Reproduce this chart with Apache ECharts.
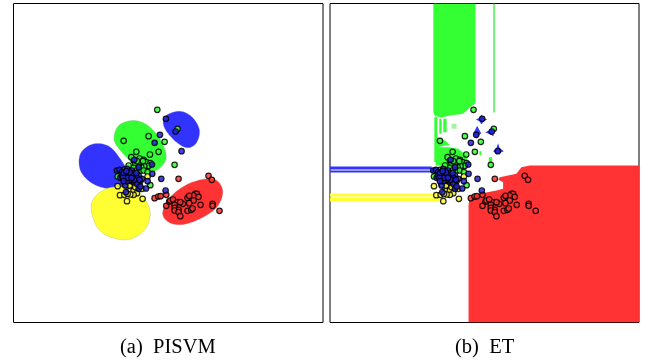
<!DOCTYPE html>
<html><head><meta charset="utf-8">
<style>html,body{margin:0;padding:0;background:#fff}#c{width:657px;height:363px}</style>
<script src="https://cdn.jsdelivr.net/npm/echarts@6/dist/echarts.min.js"></script>
</head><body><div id="c"></div>
<script>
const captions = ['(a)  PISVM', '(b)  ET'];
// Sample points, shared by both panels
const redPoints = [[415,256],[425,268],[448,361],[427,340],[427,346],[391,343],[375,310],[380,310],[370,315],[385,319],[352,322],[357,316],[370,330],[357,338],[338,340],[288,346],[297,333],[300,330],[308,327],[322,335],[330,335],[313,343],[313,352],[325,358],[313,360],[325,365],[330,377],[352,361],[363,358],[367,354],[253,323],[264,318],[271,317],[288,313],[325,265]];
const greenPoints = [[261,58],[322,115],[235,137],[160,151],[283,154],[265,184],[198,184],[239,192],[313,223],[240,284],[183,200],[190,210],[208,204],[220,208],[228,215],[240,218],[235,226],[222,227],[213,230],[205,222],[195,220],[190,232],[175,225],[210,240],[198,240],[220,240],[232,245],[190,258],[145,240],[150,252],[142,258],[165,255],[178,260],[160,238],[218,212],[200,212]];
const yellowPoints = [[232,258],[142,287],[149,314],[162,313],[170,332],[217,325],[175,295],[185,283],[165,282],[178,302],[190,300],[200,308],[190,313],[180,312],[215,295],[195,290],[210,272],[172,310],[178,285],[190,275]];
const bluePoints = [[287,85],[316,123],[269,133],[253,157],[334,182],[246,250],[273,265],[232,272],[227,294],[286,300],[167,305],[140,240],[148,238],[155,244],[150,262],[170,235],[185,240],[192,208],[245,222],[205,230],[155,255],[165,270],[175,270],[185,272],[200,270],[205,280],[205,295],[190,262],[165,285],[205,255],[215,265],[170,250],[180,255],[165,260],[195,255],[180,268],[170,272],[200,280],[210,288],[160,248],[172,262],[188,248],[200,262],[158,262],[178,246],[168,242],[192,268],[208,268],[198,248],[184,262],[160,272]];
// Decision regions of panel (a)
const aBlueTop = [[300,68],[335,63],[368,82],[388,120],[378,158],[350,172],[315,152],[284,115],[280,85]];
const aGreen = [[185,90],[225,100],[262,135],[285,180],[285,212],[258,240],[225,245],[190,220],[150,180],[131,145],[145,105]];
const aBlueLeft = [[85,159],[120,170],[150,205],[178,250],[188,272],[150,290],[105,293],[60,275],[30,240],[28,195],[52,167]];
const aYellow = [[62,350],[80,312],[125,290],[180,295],[222,322],[240,370],[222,420],[175,447],[120,440],[80,410]];
const aRed = [[277,368],[298,322],[345,285],[400,266],[440,270],[458,305],[440,350],[395,382],[340,402],[297,396]];
// Decision regions of panel (b)
const bGreenTall = [[140,-261],[267,-261],[267,38],[250,50],[230,70],[190,75],[165,80],[145,77],[140,65]];
const bGreenThin = [[320,-261],[326,-261],[326,66],[320,66]];
const bGreenBits = [
  [[143,80],[152,80],[152,215],[143,215]],
  [[158,85],[165,85],[165,130],[158,130]],
  [[170,85],[180,85],[180,125],[170,125]],
  [[152,140],[175,150],[190,163],[152,170]],
  [[147,170],[190,170],[215,175],[240,195],[245,225],[147,225]],
  [[307,200],[317,200],[317,222],[307,222]],
  [[279,182],[285,182],[285,194],[279,194]]
];
const bGreenFaint = [[[195,100],[210,100],[210,115],[195,115]]];
const bBlueBars = [[[-171,228],[135,228],[135,237],[-171,237]],[[-171,240],[135,240],[135,246],[-171,246]]];
const bYellowBars = [[[-171,309],[150,309],[150,318],[-171,318]],[[-171,321],[160,321],[160,333],[-171,333]]];
const bBlueBlobs = [
  [[268,87],[280,82],[285,72],[291,81],[302,87],[291,92],[285,102],[279,92]],
  [[260,128],[266,118],[272,106],[278,118],[284,128],[276,136],[270,144],[264,136]],
  [[296,125],[308,120],[320,108],[318,125],[322,138],[312,132]],
  [[320,182],[330,172],[335,158],[339,172],[352,182],[338,188],[330,190]]
];
const bRed = [[246,696],[246,345],[248,330],[280,310],[330,300],[350,295],[350,275],[335,267],[340,260],[390,250],[405,230],[430,225],[759,225],[759,696]];

const col = {red:'#ff3333', green:'#33ff33', blue:'#3333ff', yellow:'#ffff33'};
// closed Catmull-Rom resampling so the outlines stay smooth
function spline(P){
  const n=P.length,out=[];
  for(let i=0;i<n;i++){
    const a=P[(i-1+n)%n],b=P[i],c=P[(i+1)%n],d=P[(i+2)%n];
    for(let s=0;s<8;s++){
      const t=s/8,t2=t*t,t3=t2*t;
      out.push([0,1].map(k=>0.5*(2*b[k]+(c[k]-a[k])*t+(2*a[k]-5*b[k]+4*c[k]-d[k])*t2+(3*b[k]-a[k]-3*c[k]+d[k])*t3)));
    }
  }
  return out;
}
function region(idx, pts, color, smooth, z){
  return {type:'custom', xAxisIndex:idx, yAxisIndex:idx, coordinateSystem:'cartesian2d', z:z||2, silent:true,
    data:[0], clip:true, animation:false, encode:{x:[],y:[]},
    renderItem:(params,api)=>({type:'polygon',
      shape:{points:(smooth?spline(pts):pts).map(p=>api.coord(p))},
      style:{fill:color,stroke:smooth?'rgba(150,150,150,0.45)':null,lineWidth:smooth?0.6:0}})};
}
function dots(idx, pts, color){
  return {type:'scatter', xAxisIndex:idx, yAxisIndex:idx, data:pts, symbolSize:5.5, z:5, animation:false, silent:true,
    itemStyle:{color:color,opacity:0.85,borderColor:'#000',borderWidth:1.2}};
}
const series = [
  region(0,aGreen,col.green,true), region(0,aBlueTop,col.blue,true), region(0,aBlueLeft,col.blue,true),
  region(0,aYellow,col.yellow,true), region(0,aRed,col.red,true),
  region(1,bRed,col.red), region(1,bGreenTall,col.green), region(1,bGreenThin,'#77ee77'),
  ...bGreenBits.map(p=>region(1,p,col.green)),
  ...bGreenFaint.map(p=>region(1,p,'#aaf0aa')),
  ...bBlueBars.map(p=>region(1,p,col.blue)),
  ...bYellowBars.map(p=>region(1,p,col.yellow)),
  ...bBlueBlobs.map(p=>region(1,p,col.blue)),
];
[0,1].forEach(i=>{
  series.push(dots(i,redPoints,col.red),dots(i,greenPoints,col.green),dots(i,yellowPoints,col.yellow),dots(i,bluePoints,'#2222dd'));
});
const axisX = i=>({type:'value',gridIndex:i,min:-171,max:759,show:false});
const axisY = i=>({type:'value',gridIndex:i,min:-261,max:696,inverse:true,show:false});
const chart = echarts.init(document.getElementById('c'),null,{renderer:'canvas'});
const capStyle = {fontFamily:'Liberation Serif',fontSize:20.5,fontWeight:'normal',color:'#000'};
chart.setOption({
  animation:false,backgroundColor:'#fff',
  grid:[
    {left:13.5,top:3.5,width:309.5,height:319,show:true,borderColor:'#000',borderWidth:1,backgroundColor:'#fff',z:1},
    {left:330,top:3.5,width:309,height:319,show:true,borderColor:'#000',borderWidth:1,backgroundColor:'#fff',z:1}
  ],
  xAxis:[axisX(0),axisX(1)], yAxis:[axisY(0),axisY(1)],
  title:[
    {text:captions[0],left:120,top:337,padding:0,textStyle:capStyle},
    {text:captions[1],left:455,top:337,padding:0,textStyle:capStyle}
  ],
  series
});
</script></body></html>
